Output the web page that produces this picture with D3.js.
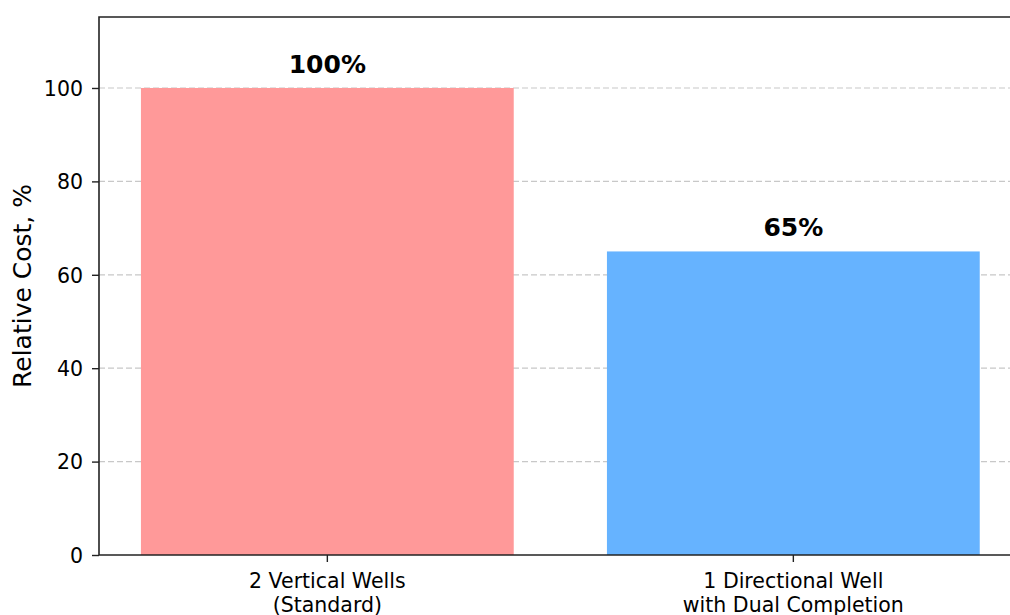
<!DOCTYPE html>
<html><head><meta charset="utf-8">
<script src="https://cdn.jsdelivr.net/npm/d3@7"></script>
<style>body{margin:0;background:#fff}svg{display:block;font-family:"DejaVu Sans",sans-serif}</style>
</head><body><svg id="c" width="1010" height="615"></svg>
<script>
const categories = ["2 Vertical Wells\n(Standard)", "1 Directional Well\nwith Dual Completion"];
const values = [100, 65];
const valueLabels = ["100%", "65%"];
const colors = ["#ff9999", "#66b3ff"];
const yTicks = [0, 20, 40, 60, 80, 100];

const svg = d3.select("#c");
const L = 99, T = 17, B = 555;
const unit = 466; // px per category step
const x = d3.scaleLinear().domain([-0.49, 1.49]).range([L, L + 1.98 * unit]);
const y = d3.scaleLinear().domain([0, 115.2]).range([B, T]);
const bw = 0.8;

// grid
svg.append("g").selectAll("line").data(yTicks.filter(d => d > 0)).join("line")
  .attr("x1", L).attr("x2", x(1.49)).attr("y1", d => y(d)).attr("y2", d => y(d))
  .attr("stroke", "#c8c8c8").attr("stroke-width", 1.2).attr("stroke-dasharray", "6,3");

// bars
svg.append("g").selectAll("rect").data(values).join("rect")
  .attr("x", (d, i) => x(i - bw / 2)).attr("width", (d, i) => x(i + bw / 2) - x(i - bw / 2))
  .attr("y", d => y(d)).attr("height", d => B - y(d)).attr("fill", (d, i) => colors[i]);

// value labels
svg.append("g").selectAll("text").data(values).join("text")
  .attr("x", (d, i) => x(i)).attr("y", d => y(d) - 15)
  .attr("text-anchor", "middle").attr("font-weight", "bold").attr("font-size", 25)
  .text((d, i) => valueLabels[i]);

// y axis
const ya = svg.append("g").attr("transform", `translate(${L},0)`)
  .call(d3.axisLeft(y).tickValues(yTicks).tickSize(7).tickPadding(9));
ya.select(".domain").remove();
ya.selectAll("text").attr("font-size", 20.5).attr("fill", "#000").attr("font-family", "DejaVu Sans").attr("dy", "0.36em");
ya.selectAll("line").attr("stroke", "#222").attr("stroke-width", 1.4);

// x axis
const xa = svg.append("g").attr("transform", `translate(0,${B})`);
xa.selectAll("line").data(categories).join("line")
  .attr("x1", (d, i) => x(i)).attr("x2", (d, i) => x(i)).attr("y1", 0).attr("y2", 7)
  .attr("stroke", "#222").attr("stroke-width", 1.4);
xa.selectAll("text").data(categories).join("text")
  .attr("text-anchor", "middle").attr("font-size", 20.5).attr("fill", "#000")
  .each(function (d, i) {
    const t = d3.select(this);
    d.split("\n").forEach((s, k) => t.append("tspan").attr("x", x(i)).attr("y", 33 + k * 24).text(s));
  });

// spines
svg.append("path").attr("d", `M${L},${B}V${T}H${x(1.49)}`).attr("fill", "none").attr("stroke", "#222").attr("stroke-width", 1.6);
svg.append("line").attr("x1", L).attr("x2", x(1.49)).attr("y1", B).attr("y2", B).attr("stroke", "#222").attr("stroke-width", 1.6);

// y label
svg.append("text").attr("transform", `translate(31,${(T + B) / 2}) rotate(-90)`)
  .attr("text-anchor", "middle").attr("font-size", 25).text("Relative Cost, %");
</script></body></html>
